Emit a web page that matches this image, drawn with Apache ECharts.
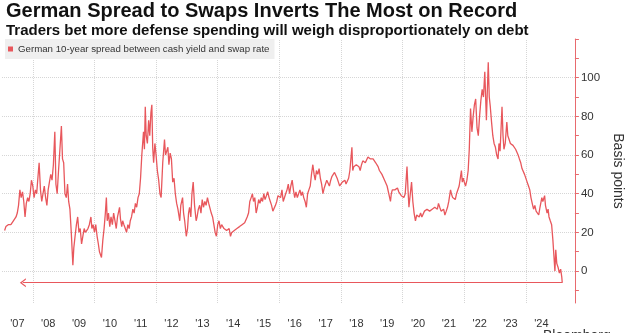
<!DOCTYPE html>
<html><head><meta charset="utf-8">
<script src="https://cdn.jsdelivr.net/npm/echarts@6/dist/echarts.min.js"></script>
<style>html,body{margin:0;padding:0;background:#fff}#c{width:633px;height:333px}</style>
</head><body><div id="c"></div>
<script>
const titleText = 'German Spread to Swaps Inverts The Most on Record';
const subtitleText = 'Traders bet more defense spending will weigh disproportionately on debt';
const seriesName = 'German 10-year spread between cash yield and swap rate';
const axisName = 'Basis points';
const yearLabelYears = [2007,2008,2009,2010,2011,2012,2013,2014,2015,2016,2017,2018,2019,2020,2021,2022,2023,2024];
const gridYears = [2008,2010,2012,2014,2016,2018,2020,2022,2024];
const yLabelValues = [0,20,40,60,80,100];
const yTickValues = [-10,0,10,20,30,40,50,60,70,80,90,100,110,120];
const yGridValues = [0,20,40,60,80,100];

const d2007 = [['2007-02-01',21],['2007-02-16',23],['2007-03-01',22],['2007-03-16',24],['2007-04-01',25],['2007-04-16',24],['2007-05-01',25],['2007-05-16',26],['2007-06-01',26],['2007-06-16',28],['2007-07-01',30],['2007-07-16',34],['2007-08-01',42],['2007-08-16',38],['2007-09-01',41],['2007-09-16',36],['2007-10-01',28],['2007-10-16',35],['2007-11-01',38],['2007-11-16',36],['2007-12-01',40],['2007-12-16',47]];
const d2008 = [['2008-01-01',44],['2008-01-16',38],['2008-02-01',42],['2008-02-16',40],['2008-03-01',48],['2008-03-16',56],['2008-04-01',42],['2008-04-16',36],['2008-05-01',40],['2008-05-16',44],['2008-06-01',38],['2008-06-16',34],['2008-07-01',42],['2008-07-16',46],['2008-08-01',50],['2008-08-16',47],['2008-09-01',55],['2008-09-18',72],['2008-10-01',45],['2008-10-16',40],['2008-11-01',52],['2008-11-16',62],['2008-12-05',75],['2008-12-18',58]];
const d2009 = [['2009-01-01',56],['2009-01-16',40],['2009-02-01',38],['2009-02-16',45],['2009-03-01',36],['2009-03-16',32],['2009-04-01',20],['2009-04-20',3],['2009-05-01',12],['2009-05-16',18],['2009-06-01',24],['2009-06-16',28],['2009-07-01',20],['2009-07-16',22],['2009-08-01',14],['2009-08-16',18],['2009-09-01',22],['2009-09-16',20],['2009-10-01',19],['2009-10-16',22],['2009-11-01',24],['2009-11-20',28],['2009-12-01',22],['2009-12-16',24]];
const d2010 = [['2010-01-01',20],['2010-01-16',24],['2010-02-01',18],['2010-02-16',14],['2010-03-01',10],['2010-03-25',7],['2010-04-10',16],['2010-04-25',22],['2010-05-10',30],['2010-05-22',38],['2010-06-01',26],['2010-06-16',30],['2010-07-01',23],['2010-07-16',28],['2010-08-01',24],['2010-08-16',30],['2010-09-01',26],['2010-09-16',22],['2010-10-01',28],['2010-10-25',33],['2010-11-05',27],['2010-11-20',23],['2010-12-01',26],['2010-12-16',24]];
const d2011 = [['2011-01-01',22],['2011-01-16',20],['2011-02-01',24],['2011-02-16',22],['2011-03-01',26],['2011-03-16',28],['2011-04-01',32],['2011-04-16',30],['2011-05-01',35],['2011-05-16',33],['2011-06-01',38],['2011-06-16',40],['2011-07-01',48],['2011-07-16',60],['2011-08-05',72],['2011-08-16',63],['2011-08-26',85],['2011-09-06',70],['2011-09-20',66],['2011-10-05',78],['2011-10-18',70],['2011-11-01',82],['2011-11-12',86],['2011-11-22',64],['2011-12-03',56],['2011-12-18',66]];
const d2012 = [['2012-01-01',60],['2012-01-16',52],['2012-02-01',47],['2012-02-16',40],['2012-03-01',38],['2012-03-20',56],['2012-04-10',68],['2012-04-22',60],['2012-05-05',59],['2012-05-20',64],['2012-06-01',55],['2012-06-16',61],['2012-07-01',58],['2012-07-16',46],['2012-08-01',48],['2012-08-16',40],['2012-09-01',35],['2012-09-16',32],['2012-10-08',26],['2012-10-20',34],['2012-11-10',38],['2012-11-22',30],['2012-12-05',26],['2012-12-24',18]];
const d2013 = [['2013-01-08',22],['2013-01-20',30],['2013-02-01',33],['2013-02-16',28],['2013-03-01',40],['2013-03-16',46],['2013-04-01',34],['2013-04-20',26],['2013-05-01',28],['2013-05-16',32],['2013-06-01',34],['2013-06-16',30],['2013-07-01',37],['2013-07-16',33],['2013-08-01',36],['2013-08-16',34],['2013-09-01',38],['2013-09-16',35],['2013-10-01',36],['2013-10-16',30],['2013-11-01',28],['2013-11-16',24],['2013-12-01',20],['2013-12-16',18]];
const d2014 = [['2014-01-01',24],['2014-01-16',26],['2014-02-01',22],['2014-02-16',24],['2014-03-01',25],['2014-03-16',22],['2014-04-01',23],['2014-04-16',21],['2014-05-01',20],['2014-05-16',22],['2014-06-01',18],['2014-06-16',20],['2014-07-01',19],['2014-07-16',21],['2014-08-01',20],['2014-08-16',22],['2014-09-01',21],['2014-09-16',23],['2014-10-01',22],['2014-10-16',24],['2014-11-01',23],['2014-11-16',25],['2014-12-01',26],['2014-12-16',28]];
const d2015 = [['2015-01-01',30],['2015-01-16',36],['2015-02-01',38],['2015-02-16',40],['2015-03-01',36],['2015-03-16',38],['2015-04-01',30],['2015-04-16',33],['2015-05-01',37],['2015-05-16',35],['2015-06-01',38],['2015-06-16',36],['2015-07-01',40],['2015-07-16',37],['2015-08-01',39],['2015-08-16',41],['2015-09-01',38],['2015-09-16',36],['2015-10-01',34],['2015-10-16',31],['2015-11-01',30],['2015-11-16',34],['2015-12-01',36],['2015-12-16',39]];
const d2016 = [['2016-01-01',40],['2016-01-16',38],['2016-02-01',42],['2016-02-16',36],['2016-03-01',37],['2016-03-16',40],['2016-04-01',42],['2016-04-16',45],['2016-05-01',40],['2016-05-16',44],['2016-06-01',47],['2016-06-16',42],['2016-07-01',38],['2016-07-16',41],['2016-08-01',38],['2016-08-16',40],['2016-09-01',42],['2016-09-16',39],['2016-10-01',41],['2016-10-16',38],['2016-11-01',36],['2016-11-16',33],['2016-12-01',40],['2016-12-16',42]];
const d2017 = [['2017-01-01',44],['2017-01-16',50],['2017-02-01',55],['2017-02-16',50],['2017-03-01',47],['2017-03-16',52],['2017-04-01',50],['2017-04-16',53],['2017-05-01',48],['2017-05-16',45],['2017-06-01',40],['2017-06-16',43],['2017-07-01',45],['2017-07-16',47],['2017-08-01',46],['2017-08-16',44],['2017-09-01',47],['2017-09-16',49],['2017-10-01',48],['2017-10-16',51],['2017-11-01',50],['2017-11-16',48],['2017-12-01',46],['2017-12-16',44]];
const d2018 = [['2018-01-01',44],['2018-01-16',46],['2018-02-01',45],['2018-02-16',47],['2018-03-01',45],['2018-03-16',44],['2018-04-01',48],['2018-04-16',52],['2018-05-10',64],['2018-05-20',52],['2018-06-01',54],['2018-06-16',53],['2018-07-01',55],['2018-07-16',56],['2018-08-01',54],['2018-08-16',52],['2018-09-01',55],['2018-09-16',57],['2018-10-01',58],['2018-10-16',56],['2018-11-01',57],['2018-11-16',59],['2018-12-01',60],['2018-12-16',58]];
const d2019 = [['2019-01-01',59],['2019-01-16',58],['2019-02-01',57],['2019-02-16',56],['2019-03-01',55],['2019-03-16',54],['2019-04-01',52],['2019-04-16',53],['2019-05-01',50],['2019-05-16',49],['2019-06-01',47],['2019-06-16',46],['2019-07-01',44],['2019-07-16',43],['2019-08-10',36],['2019-08-20',40],['2019-09-01',42],['2019-09-16',43],['2019-10-01',42],['2019-10-16',41],['2019-11-01',43],['2019-11-16',41],['2019-12-01',40],['2019-12-16',39]];
const d2020 = [['2020-01-01',40],['2020-01-16',38],['2020-02-01',40],['2020-02-22',54],['2020-03-05',42],['2020-03-16',33],['2020-04-01',40],['2020-04-16',46],['2020-05-01',36],['2020-05-16',30],['2020-06-01',26],['2020-06-16',29],['2020-07-01',30],['2020-07-16',28],['2020-08-01',30],['2020-08-16',28],['2020-09-01',29],['2020-09-16',31],['2020-10-01',30],['2020-10-16',32],['2020-11-01',33],['2020-11-16',31],['2020-12-01',30],['2020-12-16',32]];
const d2021 = [['2021-01-01',31],['2021-01-16',33],['2021-02-01',34],['2021-02-16',32],['2021-03-01',35],['2021-03-16',33],['2021-04-01',31],['2021-04-16',30],['2021-05-01',32],['2021-05-16',29],['2021-06-01',31],['2021-06-16',33],['2021-07-01',36],['2021-07-22',42],['2021-08-01',40],['2021-08-16',38],['2021-09-01',39],['2021-09-16',37],['2021-10-01',40],['2021-10-16',41],['2021-11-01',44],['2021-11-28',52],['2021-12-08',46],['2021-12-20',48]];
const d2022 = [['2022-01-01',46],['2022-01-16',44],['2022-02-01',47],['2022-02-16',52],['2022-03-01',63],['2022-03-16',84],['2022-04-01',72],['2022-04-16',80],['2022-05-01',86],['2022-05-16',89],['2022-06-01',74],['2022-06-16',70],['2022-07-01',80],['2022-07-16',88],['2022-08-01',94],['2022-08-16',90],['2022-09-01',103],['2022-09-20',78],['2022-10-12',108],['2022-10-24',90],['2022-11-05',85],['2022-11-20',77],['2022-12-05',70],['2022-12-20',66]];
const d2023 = [['2023-01-05',64],['2023-01-20',60],['2023-02-05',58],['2023-02-16',66],['2023-03-01',62],['2023-03-24',85],['2023-04-05',70],['2023-04-16',63],['2023-05-01',66],['2023-05-20',77],['2023-06-01',70],['2023-06-16',68],['2023-07-01',66],['2023-07-16',67],['2023-08-01',65],['2023-08-16',64],['2023-09-01',63],['2023-09-16',62],['2023-10-01',60],['2023-10-16',58],['2023-11-01',56],['2023-11-16',53],['2023-12-01',52],['2023-12-16',50]];
const d2024 = [['2024-01-01',50],['2024-01-16',46],['2024-02-01',44],['2024-02-16',42],['2024-03-01',38],['2024-03-16',35],['2024-04-01',32],['2024-04-16',34],['2024-05-01',31],['2024-05-16',30],['2024-06-01',29],['2024-06-16',33],['2024-07-08',38],['2024-07-20',36],['2024-08-10',39],['2024-08-20',34],['2024-09-08',30],['2024-09-20',32],['2024-10-01',28],['2024-10-16',26],['2024-11-01',24],['2024-11-16',16],['2024-12-01',6],['2024-12-10',0],['2024-12-20',11]];
const d2025 = [['2025-01-01',4],['2025-01-16',2],['2025-02-01',-1],['2025-02-16',1],['2025-03-01',-3],['2025-03-07',-6]];

const arrowStartDate = '2007-09-05';

const allData = [].concat(d2007,d2008,d2009,d2010,d2011,d2012,d2013,d2014,d2015,d2016,d2017,d2018,d2019,d2020,d2021,d2022,d2023,d2024,d2025);
const last = allData[allData.length - 1];

const RED = '#e8575c';
const AXISRED = '#e86a6e';
const GRIDC = '#d6d6d6';
const FONT = "'Liberation Sans', Arial, sans-serif";
const ts = s => +new Date(s + 'T00:00:00Z');
const X_MIN = '2007-01-01', X_MAX = '2025-08-04';
const yearFrac = s => { const d = new Date(s + 'T00:00:00Z'); const y = d.getUTCFullYear(); const a = Date.UTC(y,0,1), b = Date.UTC(y+1,0,1); return y + (d - a) / (b - a); };

const markData = [];
gridYears.forEach(y => markData.push({xAxis: ts(y + '-01-01'), lineStyle: {color: GRIDC, type: 'dotted', width: 1}}));
yGridValues.forEach(v => markData.push({yAxis: v, lineStyle: {color: GRIDC, type: 'dotted', width: 1}}));
markData.push([
  {coord: [last[0], last[1]], symbol: 'none', lineStyle: {color: RED, type: 'solid', width: 1.2}},
  {coord: [arrowStartDate, last[1]], symbol: 'path://M0,10 L5,0 L10,10 L8.4,10 L5,3.2 L1.6,10 Z', symbolSize: [9, 6]}
]);

const chart = echarts.init(document.getElementById('c'), null, {renderer: 'canvas'});
chart.setOption({
  animation: false,
  backgroundColor: '#ffffff',
  title: {
    text: titleText, subtext: subtitleText, left: 6, top: 1, padding: 0, itemGap: 2,
    textStyle: {fontFamily: FONT, fontSize: 20, fontWeight: 'bold', color: '#111'},
    subtextStyle: {fontFamily: FONT, fontSize: 15, fontWeight: 'bold', color: '#111'}
  },
  legend: {
    data: [seriesName], left: 5, top: 39, padding: [5, 5, 5, 3], backgroundColor: '#efefef',
    itemWidth: 5, itemHeight: 5, icon: 'rect', selectedMode: false,
    textStyle: {fontFamily: FONT, fontSize: 9.7, color: '#333'}
  },
  grid: {left: 2, right: 57, top: 39, bottom: 30, containLabel: false},
  xAxis: [{
    type: 'time', min: X_MIN, max: X_MAX,
    axisLine: {show: false}, axisTick: {show: false}, splitLine: {show: false}, axisLabel: {show: false}
  }, {
    type: 'value', position: 'bottom', min: yearFrac(X_MIN), max: yearFrac(X_MAX),
    axisLine: {show: false}, axisTick: {show: false}, splitLine: {show: false},
    axisLabel: {
      customValues: yearLabelYears.map(y => y + 0.5),
      formatter: v => "'" + String(Math.floor(v)).slice(2),
      fontFamily: FONT, fontSize: 11, color: '#333', margin: 15
    }
  }],
  yAxis: {
    type: 'value', position: 'right', min: -16.5, max: 120,
    axisLine: {show: true, lineStyle: {color: AXISRED, width: 1}},
    axisTick: {show: true, customValues: yTickValues, length: 4, lineStyle: {color: AXISRED}},
    axisLabel: {customValues: yLabelValues, fontFamily: FONT, fontSize: 11.5, color: '#333', margin: 6},
    splitLine: {show: false},
    name: axisName, nameLocation: 'middle', nameRotate: -90, nameGap: 28,
    nameTextStyle: {fontFamily: FONT, fontSize: 14, color: '#333'}
  },
  series: [{
    name: seriesName, type: 'line', xAxisIndex: 0, data: allData, showSymbol: false, symbol: 'none',
    lineStyle: {color: RED, width: 1.3}, itemStyle: {color: RED}, z: 3,
    markLine: {silent: true, symbol: 'none', z: 1, label: {show: false}, data: markData, animation: false}
  }],
  graphic: [{type: 'text', left: 543, top: 329, style: {text: 'Bloomberg', fontFamily: FONT, fontSize: 14, fill: '#333'}}]
});
</script></body></html>
